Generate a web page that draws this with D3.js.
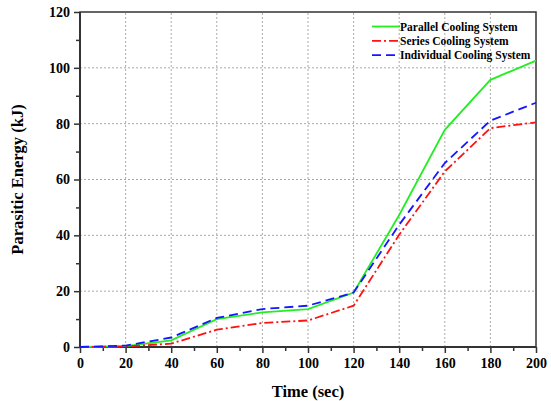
<!DOCTYPE html>
<html>
<head>
<meta charset="utf-8">
<script src="https://cdn.jsdelivr.net/npm/d3@7"></script>
<style>
  body { margin: 0; background: #fff; }
</style>
</head>
<body>
<svg id="chart" width="551" height="401"></svg>
<script>
// ------------------------------------------------------
// DATA
// ------------------------------------------------------
var times = [0, 20, 40, 60, 80, 100, 120, 140, 160, 180, 200];
var parallelVals = [0, 0.3, 2.4, 10.0, 12.4, 13.6, 19.5, 47.3, 77.8, 95.7, 102.6];
var seriesVals = [0, 0.2, 1.2, 6.2, 8.6, 9.5, 14.8, 40.2, 62.9, 78.4, 80.5];
var individualVals = [0, 0.5, 3.4, 10.4, 13.6, 14.8, 19.5, 43.8, 65.9, 81.1, 87.5];
var xTicks = [0, 20, 40, 60, 80, 100, 120, 140, 160, 180, 200];
var yTicks = [0, 20, 40, 60, 80, 100, 120];
var seriesNames = ["Parallel Cooling System", "Series Cooling System", "Individual Cooling System"];

var FONT = "'Liberation Serif', 'Times New Roman', serif";

// ------------------------------------------------------
// SETUP
// ------------------------------------------------------
var svg = d3.select("#chart");
var margin = {left: 80, top: 12, right: 15, bottom: 54};
var W = 551, H = 401;

var x = d3.scaleLinear().domain([0, 200]).range([margin.left, W - margin.right]);
var y = d3.scaleLinear().domain([0, 120]).range([H - margin.bottom, margin.top]);

function bold(sel, size) {
  sel.style("font-family", FONT).style("font-weight", "700")
     .style("font-size", size + "px").attr("fill", "#000");
}

// grid
var grid = svg.append("g");
grid.selectAll(".vg").data(xTicks.slice(1, -1)).enter().append("line")
    .attr("x1", d => x(d)).attr("x2", d => x(d))
    .attr("y1", y(0)).attr("y2", y(120))
    .attr("stroke", "#aaa").attr("stroke-width", 1).attr("stroke-dasharray", "2,2");
grid.selectAll(".hg").data(yTicks.slice(1, -1)).enter().append("line")
    .attr("x1", x(0)).attr("x2", x(200))
    .attr("y1", d => y(d)).attr("y2", d => y(d))
    .attr("stroke", "#aaa").attr("stroke-width", 1).attr("stroke-dasharray", "2,2");

// axes
var xAxis = d3.axisBottom(x).tickValues(xTicks).tickSize(6).tickPadding(5);
var xMinor = d3.axisBottom(x).tickValues(d3.range(10, 200, 20)).tickSize(4).tickFormat("");
var yAxis = d3.axisLeft(y).tickValues(yTicks).tickSize(6).tickPadding(4);
var yMinor = d3.axisLeft(y).tickValues(d3.range(10, 120, 20)).tickSize(4).tickFormat("");

function styleAxis(g) {
  g.select(".domain").remove();
  g.selectAll("line").attr("stroke", "#333").attr("stroke-width", 1.5);
  g.selectAll("text").call(bold, 14);
}
svg.append("g").attr("transform", "translate(0," + y(0) + ")").call(xAxis).call(styleAxis);
svg.append("g").attr("transform", "translate(0," + y(0) + ")").call(xMinor).call(styleAxis);
svg.append("g").attr("transform", "translate(" + x(0) + ",0)").call(yAxis).call(styleAxis);
svg.append("g").attr("transform", "translate(" + x(0) + ",0)").call(yMinor).call(styleAxis);

// frame
svg.append("rect")
    .attr("x", x(0)).attr("y", y(120))
    .attr("width", x(200) - x(0)).attr("height", y(0) - y(120))
    .attr("fill", "none").attr("stroke", "#333").attr("stroke-width", 1.5);
svg.append("line").attr("x1", x(0)).attr("x2", x(0)).attr("y1", y(0)).attr("y2", y(120))
    .attr("stroke", "#333").attr("stroke-width", 2);
svg.append("line").attr("x1", x(0)).attr("x2", x(200)).attr("y1", y(0)).attr("y2", y(0))
    .attr("stroke", "#333").attr("stroke-width", 2);

// ------------------------------------------------------
// LINES
// ------------------------------------------------------
var lineGen = d3.line().x(d => x(d[0])).y(d => y(d[1]));
var styles = [
  {color: "#22ee22", dash: null},
  {color: "#ff1111", dash: "9,3,2,3"},
  {color: "#1515ff", dash: "9,5"}
];
var allVals = [parallelVals, seriesVals, individualVals];

allVals.forEach(function (vals, i) {
  var pts = times.map(function (t, j) { return [t, vals[j]]; });
  svg.append("path")
      .datum(pts)
      .attr("d", lineGen)
      .attr("fill", "none")
      .attr("stroke", styles[i].color)
      .attr("stroke-width", 1.8)
      .attr("stroke-dasharray", styles[i].dash);
});

// ------------------------------------------------------
// LEGEND
// ------------------------------------------------------
var legend = svg.append("g").attr("transform", "translate(372,26.5)");
seriesNames.forEach(function (name, i) {
  var row = legend.append("g").attr("transform", "translate(0," + (i * 14.3) + ")");
  row.append("line").attr("x1", 0).attr("x2", 28).attr("y1", 0).attr("y2", 0)
      .attr("stroke", styles[i].color).attr("stroke-width", 1.8)
      .attr("stroke-dasharray", styles[i].dash);
  row.append("text").attr("x", 28).attr("y", 4).text(name).call(bold, 11.5);
});

// axis titles
svg.append("text")
    .attr("x", (x(0) + x(200)) / 2).attr("y", 397)
    .attr("text-anchor", "middle")
    .text("Time (sec)").call(bold, 16.5);
svg.append("text")
    .attr("transform", "translate(23," + ((y(0) + y(120)) / 2) + ") rotate(-90)")
    .attr("text-anchor", "middle")
    .text("Parasitic Energy (kJ)").call(bold, 16.5);
</script>
</body>
</html>
